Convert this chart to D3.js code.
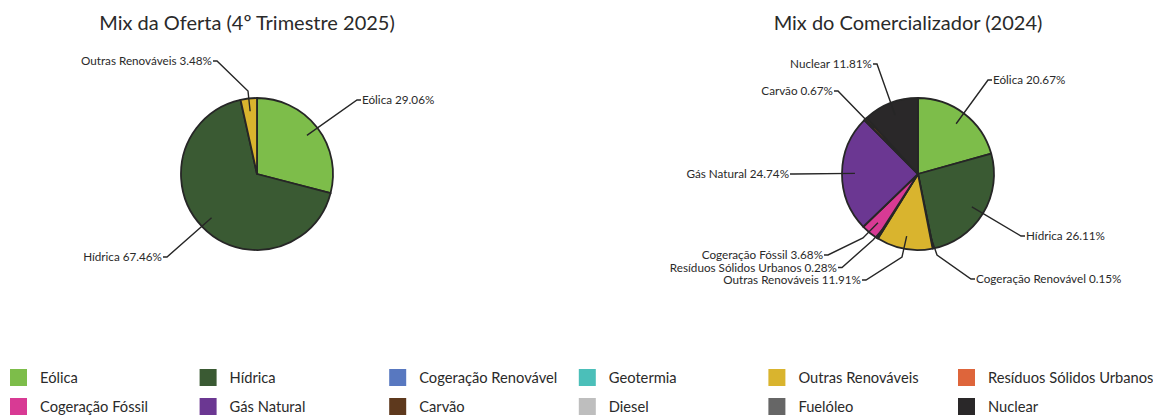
<!DOCTYPE html>
<html>
<head>
<meta charset="utf-8">
<script src="https://cdn.jsdelivr.net/npm/d3@7"></script>
<style>
  body { margin: 0; background: #fff; }
  svg { display: block; font-family: Lato, 'Open Sans', sans-serif; }
</style>
</head>
<body>
<div id="chart"></div>
<script>
// categories (legend order), colours per category
const categories = ['Eólica', 'Hídrica', 'Cogeração Renovável', 'Geotermia', 'Outras Renováveis', 'Resíduos Sólidos Urbanos',
  'Cogeração Fóssil', 'Gás Natural', 'Carvão', 'Diesel', 'Fuelóleo', 'Nuclear'];
const colors = ['#7dbd4a', '#3a5a33', '#5878c0', '#4bbfb9', '#d9b42e', '#de653b',
  '#d83a94', '#6b3792', '#5e391d', '#bebebe', '#666666', '#2a2829'];

// share (%) per category, 0 = absent
const ofertaValues = [29.06, 67.46, 0, 0, 3.48, 0, 0, 0, 0, 0, 0, 0];
const comercValues = [20.67, 26.11, 0.15, 0, 11.91, 0.28, 3.68, 24.74, 0.67, 0, 0, 11.81];

const titles = ['Mix da Oferta (4º Trimestre 2025)', 'Mix do Comercializador (2024)'];

// label layout (relative to pie centre): end of leader line and optional elbow
const ofertaLabels = {
  'Eólica': { end: [100, -74] },
  'Hídrica': { end: [-90, 83] },
  'Outras Renováveis': { end: [-40, -113], elbow: [-9, -83] },
};
const comercLabels = {
  'Eólica': { end: [70, -94] },
  'Hídrica': { end: [103, 62] },
  'Cogeração Renovável': { end: [53, 105], elbow: [19, 81] },
  'Outras Renováveis': { end: [-52, 106], elbow: [-16, 83] },
  'Resíduos Sólidos Urbanos': { end: [-76, 93.5], elbow: [-45, 66] },
  'Cogeração Fóssil': { end: [-90, 81], elbow: [-55, 64] },
  'Gás Natural': { end: [-124, 0] },
  'Carvão': { end: [-80, -83] },
  'Nuclear': { end: [-41, -110] },
};

const width = 1153;
const height = 417;
const radius = 76;

const svg = d3.select('#chart')
  .append('svg')
  .attr('width', width)
  .attr('height', height);

const pie = d3.pie().sort(null).value((d) => d.value);
const arc = d3.arc().innerRadius(0).outerRadius(radius);

const drawPie = (cx, cy, titleX, title, values, labels) => {
  svg.append('text')
    .attr('x', titleX)
    .attr('y', 30)
    .attr('text-anchor', 'middle')
    .attr('font-size', 20)
    .attr('fill', '#2a2a2a')
    .text(title);

  const data = categories.map((c, i) => ({ name: c, value: values[i], color: colors[i] }))
    .filter((d) => d.value > 0);
  const arcs = pie(data);

  const g = svg.append('g').attr('transform', `translate(${cx},${cy})`);

  g.selectAll('path.slice')
    .data(arcs)
    .join('path')
    .attr('class', 'slice')
    .attr('d', arc)
    .attr('fill', (d) => d.data.color)
    .attr('stroke', '#262626')
    .attr('stroke-width', 1.8)
    .attr('stroke-linejoin', 'round');

  // leader lines
  g.selectAll('path.leader')
    .data(arcs)
    .join('path')
    .attr('class', 'leader')
    .attr('fill', 'none')
    .attr('stroke', '#262626')
    .attr('stroke-width', 1.4)
    .attr('d', (d) => {
      const a = (d.startAngle + d.endAngle) / 2;
      const r = radius * 0.83;
      const p0 = [Math.sin(a) * r, -Math.cos(a) * r];
      const lab = labels[d.data.name];
      const pts = [p0];
      if (lab.elbow) pts.push(lab.elbow);
      const left = lab.end[0] < 0;
      pts.push(lab.end);
      pts.push([lab.end[0] + (left ? -4 : 4), lab.end[1]]);
      return d3.line()(pts);
    });

  g.selectAll('text.label')
    .data(arcs)
    .join('text')
    .attr('class', 'label')
    .attr('font-size', 11.7)
    .attr('fill', '#2a2a2a')
    .each(function (d) {
      const lab = labels[d.data.name];
      const left = lab.end[0] < 0;
      d3.select(this)
        .attr('x', lab.end[0] + (left ? -5 : 5))
        .attr('y', lab.end[1] + 4.2)
        .attr('text-anchor', left ? 'end' : 'start');
    })
    .text((d) => `${d.data.name} ${d.data.value.toFixed(2)}%`);
};

drawPie(257, 174, 247, titles[0], ofertaValues, ofertaLabels);
drawPie(918, 174, 908, titles[1], comercValues, comercLabels);

// legend: 6 columns x 2 rows
const colX = d3.scalePoint().domain(d3.range(6)).range([10, 958]);
const rowY = d3.scalePoint().domain([0, 1]).range([369, 398]);

const legend = svg.append('g')
  .selectAll('g')
  .data(categories)
  .join('g')
  .attr('transform', (d, i) => `translate(${colX(i % 6)},${rowY(Math.floor(i / 6))})`);

legend.append('rect')
  .attr('width', 17)
  .attr('height', 17)
  .attr('fill', (d, i) => colors[i]);

legend.append('text')
  .attr('x', 30)
  .attr('y', 13.5)
  .attr('font-size', 14.7)
  .attr('fill', '#2a2a2a')
  .text((d) => d);
</script>
</body>
</html>
